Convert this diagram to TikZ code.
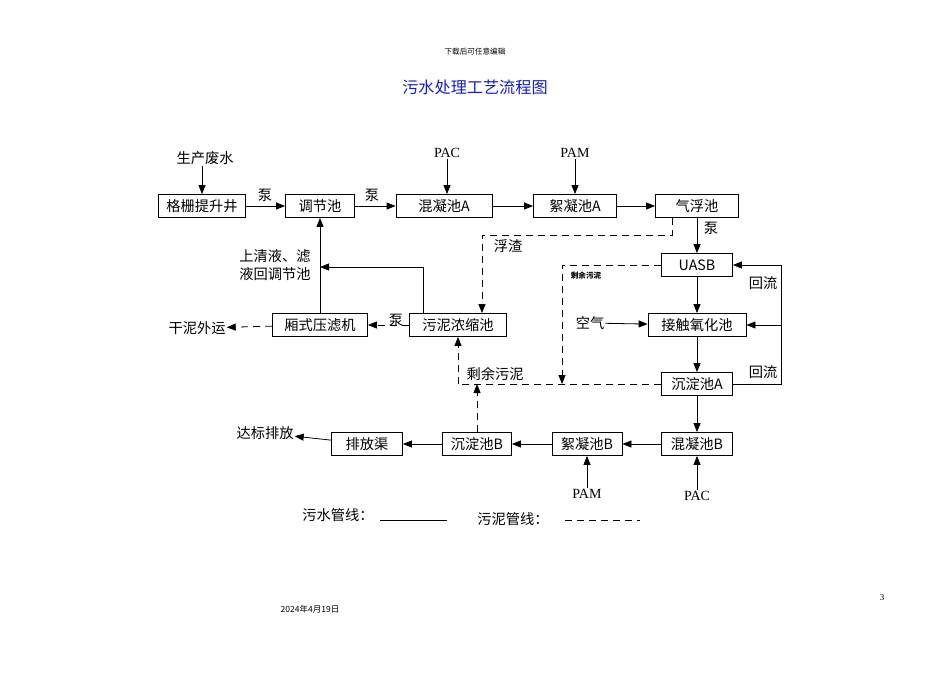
\documentclass[tikz,border=0pt]{standalone}
\usepackage{fontspec}
\setmainfont{Liberation Serif}
\newfontfamily\cjk{Noto Sans CJK SC}[Scale=0.95]
\usetikzlibrary{arrows.meta}
\begin{document}
\begin{tikzpicture}[x=1pt,y=-1pt,
  bx/.style={draw,line width=0.8pt,minimum height=23pt,inner sep=1pt,font=\fontsize{15}{15}\selectfont\cjk},
  lb/.style={font=\fontsize{15}{15}\selectfont\cjk,inner sep=1pt},
  ar/.style={line width=0.8pt,-{Triangle[length=9pt,width=7pt]}},
  ln/.style={line width=0.8pt},
  da/.style={line width=0.8pt,dash pattern=on 7pt off 5pt}]
\useasboundingbox (0,0) rectangle (950,672);
\node[font=\fontsize{8}{8}\selectfont\cjk] (hd) at (475,52) {下载后可任意编辑};
\node[font=\fontsize{17}{17}\selectfont\cjk,text={rgb,255:red,20;green,30;blue,200}] (tt) at (475,87) {污水处理工艺流程图};
\node[font=\fontsize{9}{9}\selectfont\cjk] (ft) at (310,609) {2024年4月19日};
\node[font=\fontsize{9}{9}\selectfont] (pg) at (882,598) {3};

\node[bx,minimum width=87pt] (gs) at (202,206) {格栅提升井};
\node[bx,minimum width=69pt] (tj) at (320,206) {调节池};
\node[bx,minimum width=96pt] (ha) at (444,206) {混凝池A};
\node[bx,minimum width=83pt] (xa) at (575,206) {絮凝池A};
\node[bx,minimum width=83pt] (qf) at (697,206) {气浮池};
\node[bx,minimum width=71pt] (ua) at (697,265) {UASB};
\node[bx,minimum width=98pt] (jc) at (697,325) {接触氧化池};
\node[bx,minimum width=71pt] (ca) at (697,384) {沉淀池A};
\node[bx,minimum width=71pt] (hb) at (697,444) {混凝池B};
\node[bx,minimum width=70pt] (xb) at (587,444) {絮凝池B};
\node[bx,minimum width=69pt] (cb) at (477,444) {沉淀池B};
\node[bx,minimum width=71pt] (pf) at (367,444) {排放渠};
\node[bx,minimum width=95pt] (yl) at (320,325) {厢式压滤机};
\node[bx,minimum width=97pt] (ns) at (458,325) {污泥浓缩池};

\node[lb] (sc) at (205,158) {生产废水};
\node[lb,font=\fontsize{14}{14}\selectfont] (pac1) at (447,153) {PAC};
\node[lb,font=\fontsize{14}{14}\selectfont] (pam1) at (575,153) {PAM};
\node[lb] (b1) at (265,195) {泵};
\node[lb] (b2) at (372,195) {泵};
\node[lb] (b3) at (711,228) {泵};
\node[lb] (b4) at (396,320) {泵};
\node[lb] (fz) at (508,246) {浮渣};
\node[font=\fontsize{8}{8}\selectfont\cjk\bfseries] (sy1) at (586,276) {剩余污泥};
\node[lb] (sy2) at (495,374) {剩余污泥};
\node[lb,align=right] (sq) at (275,265) {上清液、滤\\[3pt]液回调节池};
\node[lb] (gn) at (197,328) {干泥外运};
\node[lb] (kq) at (590,323) {空气};
\node[lb] (hl1) at (763,283) {回流};
\node[lb] (hl2) at (763,372) {回流};
\node[lb] (db) at (265,433) {达标排放};
\node[lb,font=\fontsize{14}{14}\selectfont] (pam2) at (587,494) {PAM};
\node[lb,font=\fontsize{14}{14}\selectfont] (pac2) at (697,496) {PAC};
\node[lb] (lg1) at (338,515) {污水管线：};
\node[lb] (lg2) at (513,519) {污泥管线：};

\draw[ar] (sc.south -| gs.north) -- (gs.north);
\draw[ar] (pac1.south) -- (pac1.south |- ha.north);
\draw[ar] (pam1.south) -- (xa.north);
\draw[ar] (gs) -- (tj);
\draw[ar] (tj) -- (ha);
\draw[ar] (ha) -- (xa);
\draw[ar] (xa) -- (qf);
\draw[ar] (qf) -- (ua);
\draw[ar] (ua) -- (jc);
\draw[ar] (jc) -- (ca);
\draw[ar] (ca) -- (hb);
\draw[ar] (hb) -- (xb);
\draw[ar] (xb) -- (cb);
\draw[ar] (cb) -- (pf);
\draw[ar] (pf) -- (db);
\draw[ar] (kq) -- (jc);
\draw[ar] (pam2.north) -- (xb.south);
\draw[ar] (pac2.north) -- (hb.south);
\coordinate (r1) at (781,384);
\coordinate (r2) at (781,265);
\coordinate (r3) at (781,325);
\draw[ar] (ca.east) -- (r1) -- (r2) -- (ua.east);
\draw[ar] (r3) -- (jc.east);
\draw[ar] (yl.north) -- (tj.south);
\coordinate (s1) at (423,267);
\draw[ar] (ns.north -| s1) -- (s1) -- (320,267);
\draw[ar,da] (ns) -- (yl);
\draw[ar,da] (yl) -- (gn);
\coordinate (f1) at (672,235);
\coordinate (f2) at (482,235);
\draw[ar,da] (qf.south -| f1) -- (f1) -- (f2) -- (ns.north -| f2);
\coordinate (u1) at (562,265);
\draw[ar,da] (ua.west) -- (u1) -- (562,384);
\coordinate (c1) at (458,384);
\draw[da] (ca.west) -- (c1);
\draw[ar,da] (c1) -- (ns.south -| c1);
\draw[ar,da] (cb.north) -- (477,384);
\draw[ln] (380,520) -- (447,520);
\draw[da] (565,520) -- (640,520);
\end{tikzpicture}
\end{document}
